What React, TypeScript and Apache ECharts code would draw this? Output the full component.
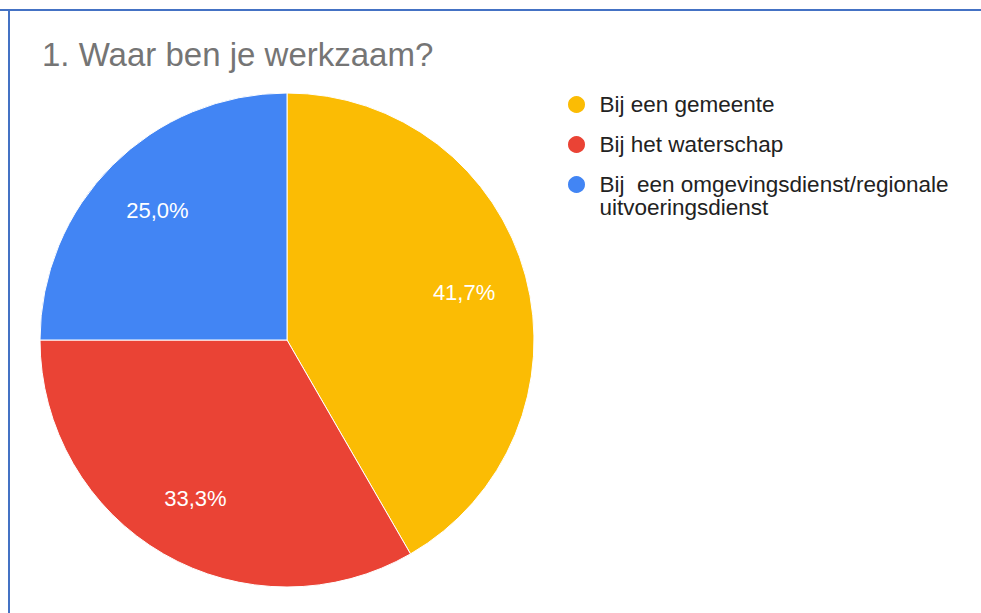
import React, { useEffect, useRef } from "react";
import * as echarts from "echarts";

const title = "1. Waar ben je werkzaam?";
const categories = [
  "Bij een gemeente",
  "Bij het waterschap",
  "Bij  een omgevingsdienst/regionale uitvoeringsdienst",
];
const values = [5, 4, 3];
const colors = ["#FBBC04", "#EA4335", "#4285F4"];

const CX = 287;
const CY = 340;
const R = 247;

export default function App() {
  const ref = useRef<HTMLDivElement>(null);
  useEffect(() => {
    document.body.style.margin = "0";
    if (!ref.current) return;
    const chart = echarts.init(ref.current, null, { renderer: "svg" });
    const data = categories.map((name, i) => ({
      name,
      value: values[i],
      itemStyle: { color: colors[i] },
    }));
    const fmtPct = (p: any) => p.percent.toFixed(1).replace(".", ",") + "%";
    const legendText = {
      fontFamily: "Liberation Sans, Arial, sans-serif",
      fontSize: 22.5,
      color: "#222222",
      lineHeight: 23,
    };
    chart.setOption({
      animation: false,
      backgroundColor: "#ffffff",
      title: {
        text: title,
        left: 42,
        top: 38,
        padding: 0,
        textStyle: {
          fontFamily: "Liberation Sans, Arial, sans-serif",
          fontSize: 33,
          fontWeight: "normal",
          color: "#757575",
        },
      },
      legend: [
        {
          orient: "vertical",
          left: 566,
          top: 93,
          padding: 0,
          itemWidth: 36,
          itemHeight: 19,
          itemGap: 17,
          icon: "circle",
          selectedMode: false,
          data: [categories[0], categories[1]],
          textStyle: legendText,
        },
        {
          orient: "vertical",
          left: 566,
          top: 150,
          padding: 0,
          itemWidth: 36,
          itemHeight: 19,
          icon: "circle",
          selectedMode: false,
          data: [categories[2]],
          formatter: (n: string) => "\n" + n.replace("regionale ", "regionale\n"),
          textStyle: legendText,
        },
      ],
      graphic: [
        {
          type: "rect",
          shape: { x: 0, y: 9, width: 981, height: 2 },
          style: { fill: "#4472C4" },
          silent: true,
        },
        {
          type: "rect",
          shape: { x: 8, y: 9, width: 2, height: 604 },
          style: { fill: "#4472C4" },
          silent: true,
        },
      ],
      series: [
        {
          type: "pie",
          center: [CX, CY],
          radius: [0, R],
          startAngle: 90,
          clockwise: true,
          percentPrecision: 1,
          data,
          label: { show: false },
          labelLine: { show: false },
          itemStyle: { borderColor: "#ffffff", borderWidth: 1 },
          emphasis: { disabled: true },
        },
        {
          type: "pie",
          center: [CX, CY],
          radius: [R * 0.46, R],
          startAngle: 90,
          clockwise: true,
          percentPrecision: 1,
          silent: true,
          legendHoverLink: false,
          data: categories.map((name, i) => ({
            name,
            value: values[i],
            itemStyle: { color: "rgba(0,0,0,0)" },
          })),
          label: {
            show: true,
            position: "inside",
            formatter: fmtPct,
            color: "#ffffff",
            fontFamily: "Liberation Sans, Arial, sans-serif",
            fontSize: 22,
          },
          labelLine: { show: false },
          emphasis: { disabled: true },
        },
      ],
    });
    return () => chart.dispose();
  }, []);
  return <div ref={ref} style={{ width: 981, height: 613 }} />;
}
